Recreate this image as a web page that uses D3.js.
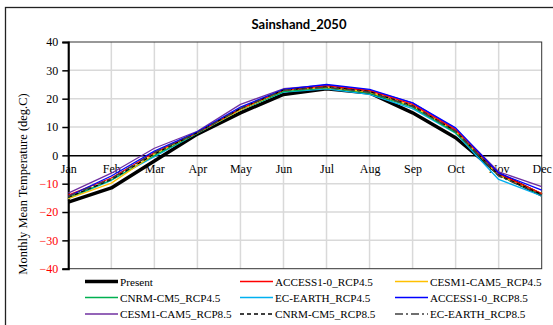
<!DOCTYPE html>
<html><head><meta charset="utf-8">
<script src="https://cdn.jsdelivr.net/npm/d3@7"></script>
<style>body{margin:0;background:#fff}svg{display:block}</style>
</head><body>
<svg id="c" width="553" height="325"></svg>
<script>
const months = ["Jan","Feb","Mar","Apr","May","Jun","Jul","Aug","Sep","Oct","Nov","Dec"];
const yTicks = [40,30,20,10,0,-10,-20,-30,-40];
const seriesNames = ["Present","ACCESS1-0_RCP4.5","CESM1-CAM5_RCP4.5","CNRM-CM5_RCP4.5","EC-EARTH_RCP4.5","ACCESS1-0_RCP8.5","CESM1-CAM5_RCP8.5","CNRM-CM5_RCP8.5","EC-EARTH_RCP8.5"];
const present      = [-16.5,-11.5,-2.0, 7.5,15.0,21.5,23.5,22.0,15.0, 6.2,-6.5,-14.0];
const access45     = [-14.0, -8.0, 1.0, 8.0,16.5,23.0,24.5,22.8,18.0, 9.0,-6.5,-13.5];
const cesm45       = [-15.3, -9.8, 0.5, 8.0,16.0,23.0,24.0,22.3,17.5, 8.5,-7.0,-13.5];
const cnrm45       = [-15.0, -8.7, 0.0, 7.8,16.0,22.5,23.8,22.0,17.0, 8.0,-7.0,-14.0];
const ecearth45    = [-15.3, -8.8,-0.5, 7.8,16.0,22.3,23.5,21.5,16.5, 7.8,-8.5,-14.3];
const access85     = [-14.5, -7.3, 1.5, 8.3,17.0,23.3,25.0,23.3,18.5, 9.7,-6.3,-12.3];
const cesm85       = [-13.3, -6.3, 2.5, 8.5,18.0,23.5,24.8,23.0,18.5, 9.3,-5.8,-11.0];
const cnrm85       = [-14.8, -8.5, 0.5, 8.0,16.5,23.0,24.2,22.5,17.5, 8.5,-7.0,-13.8];
const ecearth85    = [-14.5, -8.2, 1.0, 8.0,16.5,23.0,24.0,22.3,17.3, 8.5,-7.3,-14.0];

const seriesData = [present,access45,cesm45,cnrm45,ecearth45,access85,cesm85,cnrm85,ecearth85];
const styles = [
  {c:"#000000",w:3.5,d:null},
  {c:"#FF0000",w:1.3,d:null},
  {c:"#FFC000",w:1.3,d:null},
  {c:"#00B050",w:1.3,d:null},
  {c:"#00B0F0",w:1.3,d:null},
  {c:"#0000FF",w:1.3,d:null},
  {c:"#7030A0",w:1.3,d:null},
  {c:"#000000",w:1.3,d:"4,3"},
  {c:"#404040",w:1.5,d:"8,3,2,3"}
];
const drawOrder = [0,6,4,3,2,1,5,7,8];

const svg = d3.select("#c");
const L=68.3, R=541.7, T=42, B=268.7;
const x = d3.scalePoint().domain(months).range([L,R]);
const y = d3.scaleLinear().domain([-40,40]).range([B,T]);

// outer frame
svg.append("rect").attr("x",5.5).attr("y",7.5).attr("width",560).attr("height",330)
  .attr("fill","none").attr("stroke","#222").attr("stroke-width",1.3);

// title
svg.append("text").attr("x",299).attr("y",29).attr("text-anchor","middle")
  .attr("font-family","Lato, 'Open Sans', sans-serif").attr("font-weight","bold")
  .attr("font-size",13).text("Sainshand_2050");

// gridlines
const g = svg.append("g");
g.selectAll(".hg").data(yTicks.filter(v=>v!==0 && v!==40 && v!==-40)).enter().append("line")
  .attr("x1",L).attr("x2",R).attr("y1",d=>y(d)).attr("y2",d=>y(d))
  .attr("stroke","#d9d9d9").attr("stroke-width",1.5);
g.selectAll(".vg").data(months.slice(1,11)).enter().append("line")
  .attr("x1",d=>x(d)).attr("x2",d=>x(d)).attr("y1",T).attr("y2",B)
  .attr("stroke","#d9d9d9").attr("stroke-width",1.5);

// plot border
svg.append("rect").attr("x",L).attr("y",T).attr("width",R-L).attr("height",B-T)
  .attr("fill","none").attr("stroke","#333").attr("stroke-width",1);

// y axis
const yAxis = d3.axisLeft(y).tickValues(yTicks).tickSize(6).tickFormat(d3.format("d"));
const ya = svg.append("g").attr("transform",`translate(${L},0)`).call(yAxis);
ya.select(".domain").attr("stroke","#000").attr("stroke-width",2);
ya.selectAll(".tick line").attr("stroke","#000").attr("stroke-width",1.5);
ya.selectAll(".tick text").attr("font-family","'Liberation Serif', 'Times New Roman', serif")
  .attr("font-size",12).attr("x",-10)
  .attr("fill",d=>d<0?"#FF0000":"#000");

// x axis at zero
const xAxis = d3.axisBottom(x).tickSize(0).tickPadding(9);
const xa = svg.append("g").attr("transform",`translate(0,${y(0)})`).call(xAxis);
xa.select(".domain").attr("stroke","#000").attr("stroke-width",1.5);
xa.selectAll(".tick text").attr("font-family","'Liberation Serif', 'Times New Roman', serif")
  .attr("font-size",12).attr("fill","#000");

// y axis title
svg.append("text").attr("transform","translate(27,184) rotate(-90)").attr("text-anchor","middle")
  .attr("font-family","'Liberation Serif', 'Times New Roman', serif").attr("font-size",12.5)
  .text("Monthly Mean Temperature (deg.C)");

// lines
const line = d3.line().x((d,i)=>x(months[i])).y(d=>y(d));
drawOrder.forEach(k=>{
  svg.append("path").datum(seriesData[k]).attr("d",line).attr("fill","none")
    .attr("stroke",styles[k].c).attr("stroke-width",styles[k].w)
    .attr("stroke-dasharray",styles[k].d).attr("stroke-linejoin","round");
});

// legend
const colX = [85,240,395], rowY=[281.5,297.5,314];
seriesNames.forEach((n,i)=>{
  const cx = colX[i%3], cy=rowY[Math.floor(i/3)];
  svg.append("line").attr("x1",cx).attr("x2",cx+33).attr("y1",cy).attr("y2",cy)
    .attr("stroke",styles[i].c).attr("stroke-width",i===0?3.5:1.5).attr("stroke-dasharray",styles[i].d);
  svg.append("text").attr("x",cx+35).attr("y",cy+4)
    .attr("font-family","'Liberation Serif', 'Times New Roman', serif").attr("font-size",11.2)
    .text(n);
});
</script>
</body></html>
